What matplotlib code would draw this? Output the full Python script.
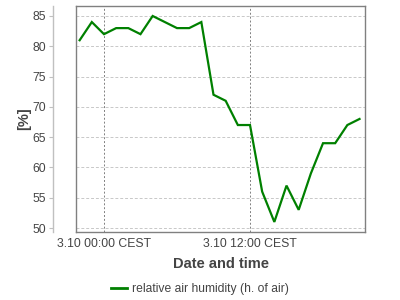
import matplotlib
matplotlib.use("Agg")
import matplotlib.pyplot as plt
from matplotlib.lines import Line2D

plt.rcParams['font.family'] = ['Liberation Sans', 'DejaVu Sans']

# hours relative to 3.10 00:00 CEST
hours = [-2, -1, 0, 1, 2, 3, 4, 5, 6, 7, 8, 9, 10, 11, 12, 13, 14, 15, 16, 17, 18, 19, 20, 21]
humidity = [81, 84, 82, 83, 83, 82, 85, 84, 83, 83, 84, 72, 71, 67, 67, 56, 51, 57, 53, 59, 64, 64, 67, 68]
xtick_pos = [0, 12]
xtick_labels = ["3.10 00:00 CEST", "3.10 12:00 CEST"]
yticks = [50, 55, 60, 65, 70, 75, 80, 85]
series_name = "relative air humidity (h. of air)"

fig = plt.figure(figsize=(4, 3), dpi=100)
ax = fig.add_axes([76/400, 1 - 232/300, (365-76)/400, (232-6)/300])

ax.plot(hours, humidity, color="#008000", lw=1.6, solid_joinstyle="miter", zorder=3)

ax.set_xlim(-2.3, 21.45)
ax.set_ylim(49.34, 86.65)

ax.set_yticks(yticks)
ax.set_xticks(xtick_pos)
ax.set_xticklabels(xtick_labels)

# grids
for y in yticks:
    ax.axhline(y, color="#c8c8c8", lw=0.7, ls=(0, (3, 2)), zorder=1)
for x in xtick_pos:
    ax.axvline(x, color="#808080", lw=0.7, ls=(0, (2, 2)), zorder=1)

# spines
for s in ['top', 'right', 'bottom']:
    ax.spines[s].set_color("#808080")
    ax.spines[s].set_linewidth(1.0)
ax.spines['left'].set_position(('outward', 23 * 72 / 100))
ax.spines['left'].set_color("#c0c0c0")
ax.spines['left'].set_linewidth(1.0)
# left edge of the plot box
ax.add_line(Line2D([0, 0], [0, 1], transform=ax.transAxes, color="#808080", lw=1.0, clip_on=False))

ax.tick_params(axis='y', length=3, width=0.8, color="#c0c0c0", labelsize=8.8, labelcolor="#444444", pad=2)
ax.tick_params(axis='x', length=0, labelsize=8.8, labelcolor="#444444", pad=4)

ax.set_xlabel("Date and time", fontsize=10.5, fontweight='bold', color="#444444", labelpad=5)
ax.set_ylabel("[%]", fontsize=10.5, fontweight='bold', color="#444444", labelpad=1)

handle = Line2D([], [], color="#008000", lw=2)
fig.legend([handle], [series_name], loc='center', bbox_to_anchor=(0.5, 1 - 289/300),
           frameon=False, fontsize=8.7, handlelength=1.3, handletextpad=0.4,
           labelcolor="#444444")

fig.savefig("out.png", dpi=100)
